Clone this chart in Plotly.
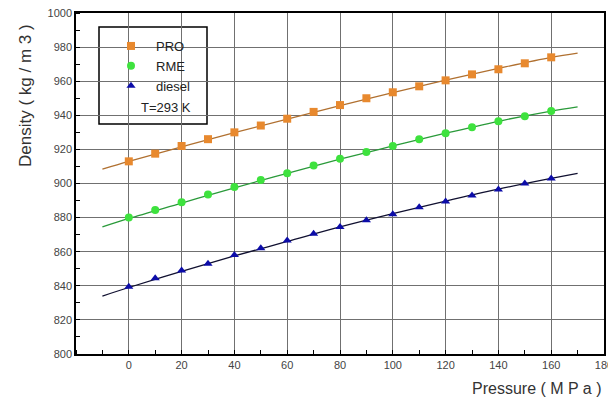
import plotly.graph_objects as go

pressure = [0, 10, 20, 30, 40, 50, 60, 70, 80, 90, 100, 110, 120, 130, 140, 150, 160]
pro = [913, 917.5, 922, 926, 930, 934, 938, 942, 946, 950, 953.5, 957, 960.5, 964, 967, 970.5, 974]
rme = [880, 884.5, 889, 893.5, 898, 902, 906, 910.5, 914.5, 918.5, 922, 926, 929.5, 933, 936.5, 939.5, 942.5]
diesel = [839.5, 844.5, 849, 853, 858, 862, 866.5, 870.5, 874.5, 878.5, 882, 886, 889.5, 893, 896.5, 900, 903]

fit_x = [-10, 0, 20, 40, 60, 80, 100, 120, 140, 160, 170]
pro_fit = [908.5, 913, 921.5, 929.8, 937.8, 945.7, 953.3, 960.6, 967.5, 974, 976.5]
rme_fit = [874.5, 879.5, 888.5, 897.5, 906, 914.3, 922, 929.5, 936.5, 942.5, 945]
diesel_fit = [834, 839, 848.5, 857.5, 866, 874.5, 882.3, 889.7, 896.7, 903, 906]

tick_x = [0, 20, 40, 60, 80, 100, 120, 140, 160, 180]
tick_y = [800, 820, 840, 860, 880, 900, 920, 940, 960, 980, 1000]

series = [
    ("PRO", pro, pro_fit, "#e8892e", "#b07030", "square"),
    ("RME", rme, rme_fit, "#3ee23e", "#2a9a3a", "circle"),
    ("diesel", diesel, diesel_fit, "#0c0ca8", "#101030", "triangle-up"),
]

W, H = 608, 389
L, R, T, B = 68, 12, 5, 43
PW, PH = W - L - R, H - T - B
OFF = 8  # body margin offset in page

def px(x):
    return (x - OFF - L) / PW

def py(y):
    return 1 - (y - OFF - T) / PH

fig = go.Figure()
for name, vals, fit, mcol, lcol, sym in series:
    fig.add_trace(go.Scatter(x=fit_x, y=fit, mode="lines", line=dict(color=lcol, width=1.3, shape="spline"),
                             showlegend=False, hoverinfo="skip"))
for name, vals, fit, mcol, lcol, sym in series:
    fig.add_trace(go.Scatter(x=pressure, y=vals, mode="markers", name=name,
                             marker=dict(color=mcol, symbol=sym, size=8, line=dict(width=0))))

fig.update_layout(
    width=W, height=H,
    margin=dict(l=L, r=R, t=T, b=B),
    paper_bgcolor="white", plot_bgcolor="white",
    font=dict(family="Liberation Sans, Arial, sans-serif", color="#333333", size=11),
    showlegend=True,
    legend=dict(x=px(106), y=py(31), xanchor="left", yanchor="top", bgcolor="rgba(0,0,0,0)",
                borderwidth=0, font=dict(size=13, color="#222222"), tracegroupgap=0,
                itemsizing="trace", itemwidth=40),
    xaxis=dict(range=[-20, 180], tickvals=tick_x, showgrid=True, gridcolor="#707070", gridwidth=1.3,
               zeroline=False, showline=True, linecolor="black", linewidth=1.5, mirror=True,
               ticks="", tickfont=dict(size=11, color="#444444"), automargin=False,
               ticklabeloverflow="allow",
               minor=dict(dtick=10, tick0=0, ticks="inside", ticklen=4, tickcolor="black", showgrid=False)),
    yaxis=dict(range=[800, 1000], tickvals=tick_y, showgrid=True, gridcolor="#707070", gridwidth=1.3,
               zeroline=False, showline=True, linecolor="black", linewidth=1.5, mirror=True,
               ticks="", tickfont=dict(size=11, color="#444444"), automargin=False,
               ticklabeloverflow="allow",
               minor=dict(dtick=10, tick0=0, ticks="inside", ticklen=4, tickcolor="black", showgrid=False)),
    shapes=[dict(type="rect", xref="paper", yref="paper",
                 x0=px(99), x1=px(207), y0=py(124), y1=py(27),
                 line=dict(color="black", width=1.5), fillcolor="white", layer="below")],
    annotations=[
        dict(text="T=293 K", xref="paper", yref="paper", x=px(139), y=py(108),
             xanchor="left", yanchor="middle", showarrow=False, font=dict(size=13, color="#222222")),
        dict(text="Density ( kg / m 3 )", xref="paper", yref="paper", x=px(25),
             y=py(96), textangle=-90, xanchor="center", yanchor="middle",
             showarrow=False, font=dict(size=17, color="#333333")),
        dict(text="Pressure ( M P a )", xref="paper", yref="paper", x=px(604), y=py(389),
             xanchor="right", yanchor="middle", showarrow=False, font=dict(size=16, color="#333333")),
    ],
)

fig.write_html("out.html")
